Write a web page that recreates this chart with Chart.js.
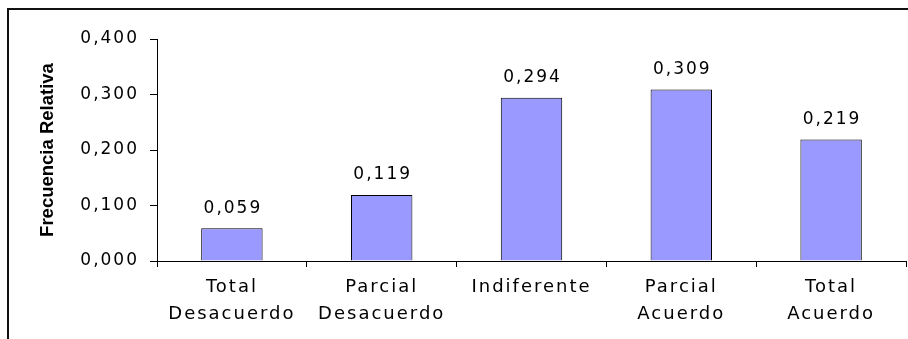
<!DOCTYPE html>
<html lang="es">
<head>
<meta charset="UTF-8" />
<title>Frecuencia Relativa</title>
<script src="https://cdn.jsdelivr.net/npm/chart.js"></script>
<style>
  html, body {
    margin: 0;
    padding: 0;
    background: #ffffff;
    overflow: hidden;
  }

  #wrap {
    position: relative;
    width: 908px;
    height: 339px;
  }

  /* Excel-style chart frame, cut off on the right and bottom */
  #frame {
    position: absolute;
    left: 7px;
    top: 8px;
    width: 1000px;
    height: 400px;
    border: 2px solid #111;
    box-sizing: border-box;
  }

  canvas {
    position: absolute;
    left: 0;
    top: 0;
  }
</style>
</head>
<body>
<div id="wrap">
  <div id="frame"></div>
  <canvas id="freqChart" width="908" height="339"></canvas>
</div>

<script>
const categories = [
  ['Total', 'Desacuerdo'],
  ['Parcial', 'Desacuerdo'],
  'Indiferente',
  ['Parcial', 'Acuerdo'],
  ['Total', 'Acuerdo']
];
const frecuencia = [0.059, 0.119, 0.294, 0.309, 0.219];
const yTicks = [0, 0.1, 0.2, 0.3, 0.4];

// 0.1 -> "0,100"
function fmt(v) {
  return v.toFixed(3).replace('.', ',');
}

const SPACING = '2px';

// wide Excel-like lettering for ticks and values, none for the axis title
const spacingPlugin = {
  id: 'spacing',
  beforeUpdate(chart) { chart.ctx.letterSpacing = SPACING; },
  beforeDraw(chart) {
    chart.ctx.letterSpacing = SPACING;
    const y = chart.scales.y;
    if (y && !y._plainTitle) {
      const orig = y.drawTitle.bind(y);
      y.drawTitle = function () {
        const c = this.ctx;
        const prev = c.letterSpacing;
        c.letterSpacing = '0px';
        orig();
        c.letterSpacing = prev;
      };
      y._plainTitle = true;
    }
  }
};

// value labels above each bar
const valueLabels = {
  id: 'valueLabels',
  afterDatasetsDraw(chart) {
    const ctx = chart.ctx;
    const meta = chart.getDatasetMeta(0);
    ctx.save();
    ctx.font = '17px "DejaVu Sans"';
    ctx.fillStyle = '#000';
    ctx.textAlign = 'center';
    ctx.textBaseline = 'middle';
    meta.data.forEach((bar, i) => {
      ctx.fillText(fmt(frecuencia[i]), bar.x + 1, bar.y - 20);
    });
    ctx.restore();
  }
};

const ctx = document.getElementById('freqChart').getContext('2d');
new Chart(ctx, {
  type: 'bar',
  data: {
    labels: categories,
    datasets: [{
      data: frecuencia,
      backgroundColor: '#9999ff',
      borderColor: '#000',
      borderWidth: 1,
      categoryPercentage: 1,
      barPercentage: 0.41
    }]
  },
  options: {
    responsive: false,
    animation: false,
    devicePixelRatio: 1,
    layout: { padding: { left: 0, right: 2, top: 39, bottom: 0 } },
    plugins: {
      legend: { display: false },
      tooltip: { enabled: false }
    },
    scales: {
      x: {
        grid: {
          drawOnChartArea: false,
          drawTicks: true,
          tickLength: 6,
          color: '#000',
          offset: true
        },
        border: { display: true, color: '#000', width: 1 },
        ticks: {
          color: '#000',
          font: { family: '"DejaVu Sans"', size: 18, lineHeight: 1.5 },
          padding: 7,
          maxRotation: 0,
          autoSkip: false
        },
        afterFit(scale) { scale.height = 78; }
      },
      y: {
        min: 0,
        max: 0.4,
        afterBuildTicks(scale) {
          scale.ticks = yTicks.map(v => ({ value: v }));
        },
        grid: {
          drawOnChartArea: false,
          drawTicks: true,
          tickLength: 7,
          color: '#000'
        },
        border: { display: true, color: '#000', width: 1 },
        ticks: {
          color: '#000',
          font: { family: '"DejaVu Sans"', size: 17 },
          padding: 11,
          callback: v => fmt(v)
        },
        title: {
          display: true,
          text: 'Frecuencia Relativa',
          color: '#000',
          font: { family: '"Liberation Sans"', size: 18.5, weight: 'bold', lineHeight: 1.2 },
          padding: { top: 37, bottom: 0 }
        },
        afterFit(scale) { scale.width = 157; }
      }
    }
  },
  plugins: [spacingPlugin, valueLabels]
});
</script>
</body>
</html>
